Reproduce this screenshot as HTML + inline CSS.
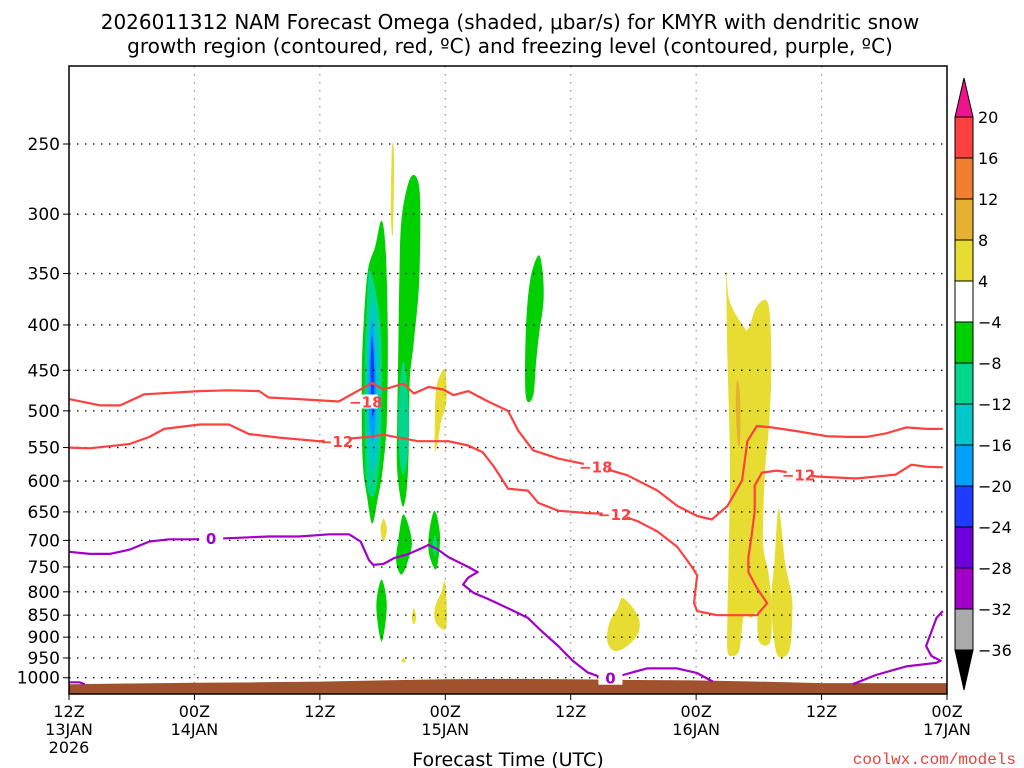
<!DOCTYPE html>
<html><head><meta charset="utf-8"><style>
body{margin:0;background:#fff;}
svg{display:block;font-family:"DejaVu Sans","Liberation Sans",sans-serif;}
</style></head><body>
<svg id="chart" width="1024" height="768" viewBox="0 0 1024 768" xmlns="http://www.w3.org/2000/svg">
<rect width="1024" height="768" fill="#fff"/>
<text x="510" y="29" text-anchor="middle" font-size="20" fill="#000">2026011312 NAM Forecast Omega (shaded, μbar/s) for KMYR with dendritic snow</text>
<text x="510" y="53" text-anchor="middle" font-size="20" fill="#000">growth region (contoured, red, ºC) and freezing level (contoured, purple, ºC)</text>
<g id="shade"></g>
<g id="grid"></g>
<g id="terrain"></g>
<g id="contours"></g>
<g id="axes"></g>
<g id="cbar"></g>
<text x="508" y="766" text-anchor="middle" font-size="19" fill="#000">Forecast Time (UTC)</text>
<text x="1016" y="764" text-anchor="end" font-size="16" fill="#e8403c" font-family="Liberation Mono, monospace">coolwx.com/models</text>
</svg>
<script>
const pressureTicks=[250,300,350,400,450,500,550,600,650,700,750,800,850,900,950,1000];
const timeTicks=[0,12,24,36,48,60,72,84];
const timeLabels=[["12Z","13JAN","2026"],["00Z","14JAN"],["12Z"],["00Z","15JAN"],["12Z"],["00Z","16JAN"],["12Z"],["00Z","17JAN"]];
const terrainHours=[0,6,12,18,24,30,36,42,48,54,60,66,72,78,84];
const terrainPres=[1017,1015,1013,1012,1010,1007,1004,1003,1004,1006,1007,1010,1014,1014,1014];
const cbarLevels=[20,16,12,8,4,-4,-8,-12,-16,-20,-24,-28,-32,-36];
const cbarColors=["#ff4040","#f08030","#e6b030","#e6dc32","#ffffff","#00d000","#00d78c","#00c8c8","#00a0ff","#1e3cff","#6e00dc","#a000c8","#aaaaaa"];
const redM18=[[0,485],[3,493],[4.9,493],[7.2,479],[12.5,475],[15.3,474],[18.2,475],[19.1,483],[22,485],[25.8,488],[29,465],[30.1,473],[32,466],[33,478],[34.4,470],[35.8,473],[36.8,480],[38.2,475],[40.1,488],[42,500],[43,527],[44.4,554],[46.8,566],[48.7,572],[50.6,578],[53.4,591],[56.3,615],[58.2,640],[60.1,657],[61.5,663],[63,640],[64.4,599],[64.9,541],[65.8,520],[67.2,522],[69.6,527],[72.5,534],[74.4,535],[76.3,535],[78.2,530],[80.1,522],[82,524],[83.6,524]];
const redM12=[[0,550],[2,551],[5.8,545],[7.7,535],[9.1,524],[12.5,518],[15.3,518],[17.2,531],[20.1,536],[23.9,541],[28.7,535],[30.1,532],[31.5,536],[33.4,541],[36.3,541],[38.2,547],[39.6,557],[40.6,577],[41.5,599],[42,612],[43.9,615],[44.9,635],[46.8,648],[49.6,652],[52.5,654],[54.4,666],[56.3,684],[58.2,712],[59.6,750],[60.1,767],[59.9,802],[59.8,824],[60.1,841],[62,850],[65.8,850],[66.8,824],[65.8,792],[65,760],[65,731],[65.3,693],[65.6,648],[65.6,607],[66.3,587],[67.7,584],[71.5,593],[75.3,596],[79.1,590],[80.6,575],[82,578],[83.6,579]];
const purple0=[[0,721],[2,725],[3.9,725],[5.8,717],[7.7,702],[9.6,698],[12,698],[15.3,696],[19.1,693],[22,693],[24.9,689],[26.8,689],[27.9,702],[28.7,737],[29.1,746],[30.1,744],[31.1,733],[32.5,725],[33.9,713],[34.4,708],[35.3,717],[36.3,731],[38.2,750],[39.1,760],[38.2,771],[37.7,785],[38.7,802],[40.1,815],[42,835],[43.9,856],[45.3,888],[46.8,921],[48.2,957],[49.6,986],[51,1000],[53,993],[55.3,976],[58.2,976],[60.1,988],[61.6,1010]];
const purple0b=[[75,1017],[77.2,993],[80.1,971],[83,962],[83.4,957],[82.5,945],[82,921],[82.5,888],[83,856],[83.6,841]];
const purple0c=[[0,1012],[1,1012],[1.5,1017]];
const omegaCats=[5,6,7,8,9,5,6,3,3,5,5,6,3,5,3,3,3,5,3,3,2,3];
const omegaShapes=[
[[29.9,305],[30.3,330],[30.5,407],[30.4,514],[30.0,584],[29.5,632],[29,670],[28.5,623],[28.1,569],[28.0,463],[28.2,396],[28.6,347],[29.3,326]],
[[28.8,347],[29.8,400],[29.9,520],[29.5,600],[29.0,625],[28.4,590],[28.3,450],[28.5,380]],
[[29.1,376],[29.6,430],[29.6,530],[29.1,584],[28.6,540],[28.5,430]],
[[29.0,396],[29.35,450],[29.3,520],[29.0,541],[28.7,500],[28.7,440]],
[[29.0,412],[29.2,450],[29.15,500],[29.0,505],[28.85,450]],
[[32.5,276],[33.2,272],[33.6,290],[33.5,357],[33.0,417],[32.6,463],[32.5,554],[32.3,615],[31.9,640],[31.4,584],[31.4,514],[31.5,428],[31.6,357],[31.8,305]],
[[32,439],[32.5,500],[32.4,560],[32,590],[31.6,560],[31.5,500]],
[[30.9,252],[31.1,260],[31.0,315],[30.8,300]],
[[36,450],[36.1,488],[35.6,514],[35.3,541],[35,554],[35,514],[35.1,475],[35.5,456]],
[[32,654],[32.8,700],[32.4,740],[31.8,765],[31.3,740],[31.5,700]],
[[35,648],[35.5,690],[35.3,740],[35,754],[34.4,720],[34.5,680]],
[[35,690],[35.2,710],[35,730],[34.8,710]],
[[30.1,662],[30.4,680],[30.1,702],[29.8,680]],
[[29.9,775],[30.4,830],[29.9,910],[29.4,830]],
[[36,781],[36.1,877],[35.1,867],[35,835],[35.6,802]],
[[33,835],[33.2,856],[33,871],[32.8,856]],
[[32,950],[32.2,957],[32,962],[31.8,957]],
[[44.9,334],[45.3,347],[45.4,376],[45,407],[44.7,439],[44.4,481],[43.7,481],[43.7,407],[44.1,357]],
[[62.9,348],[63.2,376],[64.5,401],[65,404],[65.8,381],[66.9,379],[67.2,439],[67,514],[66.6,584],[66.4,702],[66.9,760],[67.2,824],[67.1,910],[66,910],[65.8,846],[65.3,856],[64.6,850],[64.4,877],[64.1,933],[63.5,945],[63,933],[63,846],[63.1,740],[63.2,632],[63.2,541],[63,439],[62.9,376]],
[[67.9,645],[68.5,740],[69.1,802],[69.2,846],[68.9,933],[67.7,938],[67.2,824],[67.5,740]],
[[63.9,463],[64.2,480],[64.2,540],[64.0,545],[63.8,500]],
[[53,813],[54.4,850],[54.5,888],[53.4,921],[52.2,933],[51.5,910],[51.7,867],[52.5,835]]
];
const contourLabels=[["−18",28.4,488,"#ff4040"],["−18",50.4,578,"#ff4040"],["−12",25.6,541,"#ff4040"],["−12",52.2,654,"#ff4040"],["−12",69.8,590,"#ff4040"],["0",13.6,696,"#a000c8"],["0",51.8,1000,"#a000c8"]];

const NS="http://www.w3.org/2000/svg";
const X0=69,X1=947,Y0=66,Y1=694;
const xs=h=>X0+(h/84)*(X1-X0);
const ys=p=>144+385*Math.log(p/250);
function mk(tag,attrs,parent){const e=document.createElementNS(NS,tag);for(const k in attrs)e.setAttribute(k,attrs[k]);parent.appendChild(e);return e;}
const pts=a=>a.map(d=>xs(d[0]).toFixed(1)+","+ys(d[1]).toFixed(1)).join(" ");
function smoothClosed(a){const P=a.map(d=>[xs(d[0]),ys(d[1])]);const n=P.length;let s="M"+P[0][0].toFixed(1)+","+P[0][1].toFixed(1);
for(let i=0;i<n;i++){const p0=P[(i-1+n)%n],p1=P[i],p2=P[(i+1)%n],p3=P[(i+2)%n];
const c1=[p1[0]+(p2[0]-p0[0])/6,p1[1]+(p2[1]-p0[1])/6],c2=[p2[0]-(p3[0]-p1[0])/6,p2[1]-(p3[1]-p1[1])/6];
s+=` C${c1[0].toFixed(1)},${c1[1].toFixed(1)} ${c2[0].toFixed(1)},${c2[1].toFixed(1)} ${p2[0].toFixed(1)},${p2[1].toFixed(1)}`;}
return s+"Z";}
const shade=document.getElementById('shade');
omegaShapes.forEach((s,i)=>{const e=mk('path',{d:smoothClosed(s),fill:cbarColors[omegaCats[i]]},shade);

});
const grid=document.getElementById('grid');
pressureTicks.forEach(p=>{const e=mk('line',{x1:X0,x2:X1,y1:ys(p),y2:ys(p),stroke:'#000','stroke-width':1.3,'stroke-dasharray':'1.5 6.5'},grid);

});
timeTicks.slice(1,-1).forEach(h=>{const e=mk('line',{x1:xs(h),x2:xs(h),y1:Y0,y2:Y1,stroke:'#999','stroke-width':1.3,'stroke-dasharray':'1.5 6.5'},grid);

});
const terr=document.getElementById('terrain');
let tp=terrainHours.map((h,i)=>[h,terrainPres[i]]);
const tpoly=pts(tp)+" "+xs(84)+","+Y1+" "+xs(0)+","+Y1;
const te=mk('polygon',{points:tpoly,fill:'#a0522d'},terr);


const con=document.getElementById('contours');
[[redM18,'#ff4040'],[redM12,'#ff4040'],[purple0,'#a000c8'],[purple0b,'#a000c8'],[purple0c,'#a000c8']].forEach(([a,c])=>{const e=mk('polyline',{points:pts(a),fill:'none',stroke:c,'stroke-width':2.2,'stroke-linejoin':'round'},con);

});
contourLabels.forEach(([t,h,p,c])=>{const x=xs(h),y=ys(p);
const r=mk('rect',{x:x-12,y:y-7,width:24,height:14,fill:'#fff'},con);


const e=mk('text',{x:x,y:y+6,'text-anchor':'middle','font-size':15,'font-weight':'bold',fill:c},con);e.textContent=t;

});
const ax=document.getElementById('axes');
const fr=mk('rect',{x:X0,y:Y0,width:X1-X0,height:Y1-Y0,fill:'none',stroke:'#000','stroke-width':1.5},ax);


pressureTicks.forEach(p=>{const y=ys(p);
const l=mk('line',{x1:X0-6,x2:X0,y1:y,y2:y,stroke:'#000'},ax);


const t=mk('text',{x:X0-9,y:y+6,'text-anchor':'end','font-size':17,fill:'#000'},ax);t.textContent=p;

});
timeTicks.forEach((h,i)=>{const x=xs(h);
const l=mk('line',{x1:x,x2:x,y1:Y1,y2:Y1+6,stroke:'#000'},ax);


timeLabels[i].forEach((s,j)=>{const t=mk('text',{x:x,y:717+j*18,'text-anchor':'middle','font-size':16,fill:'#000'},ax);t.textContent=s;

});});
const cb=document.getElementById('cbar');
const cbTop=117,cbStep=41,cbX=955,cbW=18;
cbarColors.forEach((c,i)=>{const r=mk('rect',{x:cbX,y:cbTop+i*cbStep,width:cbW,height:cbStep,fill:c,stroke:'#000','stroke-width':1},cb);

});
const tu=mk('polygon',{points:`${cbX},${cbTop} ${cbX+cbW},${cbTop} ${cbX+cbW/2},78`,fill:'#f0148c',stroke:'#000'},cb);


const yb=cbTop+cbarColors.length*cbStep;
const td=mk('polygon',{points:`${cbX},${yb} ${cbX+cbW},${yb} ${cbX+cbW/2},${yb+40}`,fill:'#000',stroke:'#000'},cb);


cbarLevels.forEach((v,i)=>{const t=mk('text',{x:978,y:cbTop+i*cbStep+6,'font-size':16,fill:'#000'},cb);t.textContent=v<0?"−"+(-v):v;

});
</script>
</body></html>
